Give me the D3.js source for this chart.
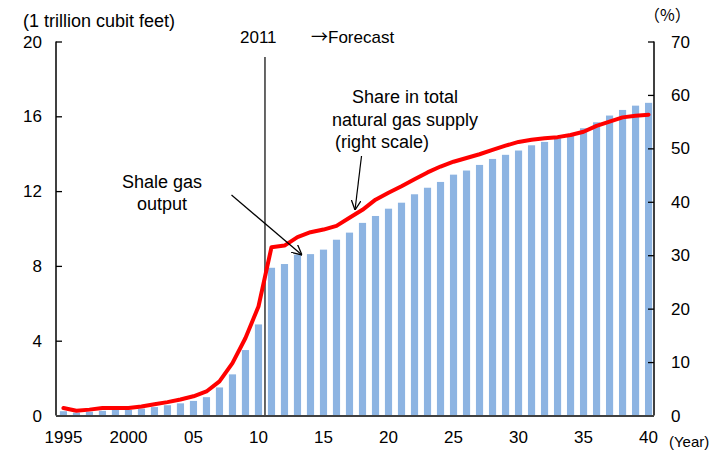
<!DOCTYPE html>
<html><head><meta charset="utf-8">
<script src="https://cdn.jsdelivr.net/npm/d3@7"></script>
<style>
html,body{margin:0;padding:0;background:#fff;}
svg text{font-family:"Liberation Sans",Arial,sans-serif;fill:#000;}
</style></head>
<body>
<svg id="c" width="718" height="461"></svg>
<script>
const years = d3.range(1995, 2041);
const xTickLabels = ["1995","2000","05","10","15","20","25","30","35","40"];
const xTickYears = [1995,2000,2005,2010,2015,2020,2025,2030,2035,2040];
const leftTicks = [0,4,8,12,16,20];
const rightTicks = [0,10,20,30,40,50,60,70];
// Shale gas output (1 trillion cubic feet), left scale
const shaleOutput = [0.23,0.15,0.2,0.25,0.3,0.3,0.37,0.45,0.55,0.65,
  0.78,0.98,1.5,2.2,3.5,4.87,7.9,8.1,8.6,8.63,
  8.87,9.4,9.78,10.3,10.67,11.06,11.38,11.83,12.18,12.49,
  12.88,13.1,13.4,13.72,13.94,14.17,14.45,14.63,14.83,15.02,
  15.36,15.68,16.04,16.34,16.57,16.72];
// Share in total natural gas supply (%), right scale
const shareSupply = [1.4,0.9,1.1,1.4,1.4,1.4,1.7,2.1,2.5,3.0,
  3.6,4.5,6.4,9.8,14.5,20.4,31.5,31.8,33.4,34.3,
  34.8,35.5,37.0,38.5,40.4,41.7,42.9,44.2,45.5,46.6,
  47.5,48.2,48.9,49.7,50.5,51.2,51.6,51.9,52.1,52.5,
  53.1,54.2,55.0,55.8,56.1,56.3];

const svg = d3.select("#c");
const pLeft = 56, pRight = 654, pTop = 41.5, pBottom = 415.5;
const x = d3.scaleBand().domain(years).range([57, 655]).paddingInner(0.45).paddingOuter(0.22);
const yL = d3.scaleLinear().domain([0,20]).range([pBottom, pTop]);
const yR = d3.scaleLinear().domain([0,70]).range([pBottom, pTop]);
const cx = d => x(d) + x.bandwidth()/2;

// bars
svg.append("g").selectAll("rect").data(years).join("rect")
  .attr("x", d => x(d)).attr("width", x.bandwidth())
  .attr("y", (d,i) => yL(shaleOutput[i]))
  .attr("height", (d,i) => pBottom - yL(shaleOutput[i]))
  .attr("fill", "#8db4e2");

// 2011 vertical line
const vx = x(2011) - x.step()*x.paddingInner()/2;
svg.append("line").attr("x1", vx).attr("x2", vx).attr("y1", 57).attr("y2", pBottom)
  .attr("stroke", "#000").attr("stroke-width", 1.2);

// red line
svg.append("path").datum(years)
  .attr("d", d3.line().x(d => cx(d)).y((d,i) => yR(shareSupply[i])))
  .attr("fill", "none").attr("stroke", "#ff0000").attr("stroke-width", 4)
  .attr("stroke-linejoin", "round").attr("stroke-linecap", "round");

// axes
const axL = svg.append("g").attr("transform", `translate(${pLeft},0)`)
  .call(d3.axisRight(yL).tickValues(leftTicks).tickSize(6).tickFormat(""));
const axR = svg.append("g").attr("transform", `translate(${pRight},0)`)
  .call(d3.axisLeft(yR).tickValues(rightTicks).tickSize(6).tickFormat(""));
[axL, axR].forEach(a => {
  a.select(".domain").attr("stroke", "#000").attr("stroke-width", 1.5)
   .attr("d", `M0,${pTop}V${pBottom}`);
  a.selectAll(".tick line").attr("stroke", "#000").attr("stroke-width", 1.3);
});
svg.append("line").attr("x1", pLeft).attr("x2", pRight).attr("y1", pBottom+0.5).attr("y2", pBottom+0.5)
  .attr("stroke", "#404040").attr("stroke-width", 2);

// tick labels
svg.append("g").selectAll("text").data(leftTicks).join("text")
  .attr("x", 42).attr("y", d => yL(d)).attr("dy", "0.36em")
  .attr("text-anchor", "end").style("font-size", "17px").text(d => d);
svg.append("g").selectAll("text").data(rightTicks).join("text")
  .attr("x", 671).attr("y", d => yR(d)).attr("dy", "0.36em")
  .attr("text-anchor", "start").style("font-size", "17px").text(d => d);
svg.append("g").selectAll("text").data(xTickYears).join("text")
  .attr("x", d => cx(d)).attr("y", 443)
  .attr("text-anchor", "middle").style("font-size", "17px")
  .text((d,i) => xTickLabels[i]);

// labels
const t = (s, xx, yy, size, anchor) => svg.append("text").attr("x", xx).attr("y", yy)
  .attr("text-anchor", anchor || "start").style("font-size", size + "px").text(s);
t("(1 trillion cubit feet)", 23, 27, 18);
t("（%）", 644, 21, 16).style("font-family", "'Noto Sans CJK JP',sans-serif");
t("(Year)", 669, 447, 15);
t("2011", 240, 43, 17);
const fc = svg.append("text").attr("x", 311).attr("y", 43).style("font-size", "17px");
fc.append("tspan").style("font-family", "'Noto Sans CJK JP',sans-serif").text("→");
fc.append("tspan").text("Forecast");
t("Shale gas", 162, 188, 18, "middle");
t("output", 162, 210, 18, "middle");
t("Share in total", 405, 103, 18, "middle");
t("natural gas supply", 405, 126, 18, "middle");
t("(right scale)", 335, 148, 18);

// arrows
const defs = svg.append("defs");
defs.append("marker").attr("id", "ah").attr("viewBox", "0 0 10 10")
  .attr("refX", 10).attr("refY", 5).attr("markerWidth", 10).attr("markerHeight", 10)
  .attr("markerUnits", "userSpaceOnUse").attr("orient", "auto")
  .append("path").attr("d", "M0,0L10,5L0,10").attr("fill", "none").attr("stroke", "#000").attr("stroke-width", 1.3);
const arrow = (x1,y1,x2,y2) => svg.append("line").attr("x1",x1).attr("y1",y1).attr("x2",x2).attr("y2",y2)
  .attr("stroke","#000").attr("stroke-width",1.2).attr("marker-end","url(#ah)");
arrow(231.5, 195, 302, 255);
arrow(361.5, 156, 355, 210);
</script>
</body></html>
